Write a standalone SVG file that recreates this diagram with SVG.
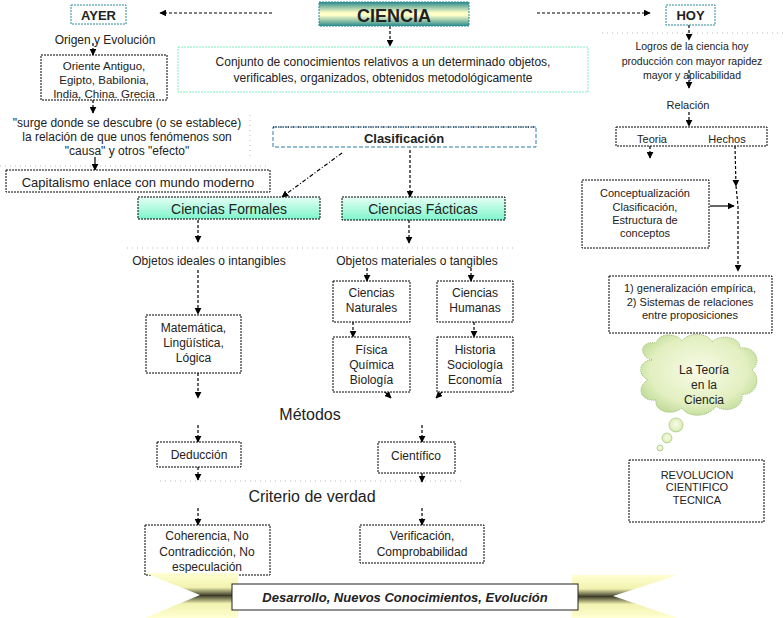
<svg xmlns="http://www.w3.org/2000/svg" width="783" height="618" viewBox="0 0 783 618">
<defs>
<marker id="ah" viewBox="0 0 10 10" refX="9" refY="5" markerWidth="7" markerHeight="7" markerUnits="userSpaceOnUse" orient="auto-start-reverse"><path d="M0,0 L10,5 L0,10 z" fill="#000"/></marker>
<linearGradient id="gCiencia" x1="0" y1="0" x2="0" y2="1"><stop offset="0" stop-color="#2a8a8a"/><stop offset="0.45" stop-color="#ffffc8"/><stop offset="0.55" stop-color="#ffffc8"/><stop offset="1" stop-color="#2a8a8a"/></linearGradient>
<linearGradient id="gMint" x1="0" y1="0" x2="0" y2="1"><stop offset="0" stop-color="#e6fff5"/><stop offset="1" stop-color="#7ff5cc"/></linearGradient>
<linearGradient id="gTail" x1="0" y1="0" x2="0" y2="1"><stop offset="0" stop-color="#ffffd2"/><stop offset="0.32" stop-color="#f2f2b0"/><stop offset="0.5" stop-color="#3c3c28"/><stop offset="0.68" stop-color="#f2f2b0"/><stop offset="1" stop-color="#ffffd2"/></linearGradient>
<radialGradient id="gCloud" cx="0.5" cy="0.45" r="0.6"><stop offset="0" stop-color="#f8fbe6"/><stop offset="0.7" stop-color="#e2efc0"/><stop offset="1" stop-color="#bcd994"/></radialGradient>
</defs>
<style>
text{font-family:"Liberation Sans",Arial,sans-serif;fill:#222;text-anchor:middle}
.t11{font-size:11px}.t10{font-size:10.5px}.t12{font-size:12px}.t13{font-size:13px}.t14{font-size:14px}.t16{font-size:16px}
.b{font-weight:bold}
.box{fill:#fff;stroke:#000;stroke-width:1;stroke-dasharray:2 1}
.tealbox{fill:#fff;stroke:#2a8a9a;stroke-width:1;stroke-dasharray:2 1}
.mint{fill:url(#gMint);stroke:#000;stroke-width:1;stroke-dasharray:2 1}
.c{fill:none;stroke:#000;stroke-width:1.2;stroke-dasharray:3 2;marker-end:url(#ah)}
.cs{fill:none;stroke:#000;stroke-width:1.2;marker-end:url(#ah)}
.guide{fill:none;stroke:#bbb;stroke-width:1;stroke-dasharray:1 4}
</style>

<g id="guides">
<path class="guide" d="M0,166 H270 M250,115 V160 M127,248 H515 M160,481 H463 M602,33 H783"/>
</g>

<g id="connectors">
<line class="c" x1="272" y1="13" x2="160" y2="13"/>
<line class="c" x1="537" y1="13" x2="650" y2="13"/>
<line class="c" x1="390" y1="26" x2="390" y2="46"/>
<line class="c" x1="93" y1="43" x2="93" y2="55"/>
<line class="c" x1="93" y1="100" x2="93" y2="113"/>
<line class="cs" x1="95" y1="157" x2="95" y2="170"/>
<line class="c" x1="342" y1="153" x2="282" y2="197" style="stroke-dasharray:4 2 1 2"/>
<line class="c" x1="410" y1="150" x2="410" y2="197"/>
<line class="c" x1="198" y1="220" x2="198" y2="242"/>
<line class="c" x1="198" y1="270" x2="198" y2="314"/>
<line class="c" x1="198" y1="373" x2="198" y2="398"/>
<line class="c" x1="409" y1="220" x2="409" y2="243"/>
<line class="c" x1="367" y1="268" x2="367" y2="281"/>
<line class="c" x1="471" y1="268" x2="471" y2="281"/>
<line class="c" x1="353" y1="322" x2="353" y2="337"/>
<line class="c" x1="474" y1="322" x2="474" y2="337"/>
<line class="cs" x1="384" y1="391" x2="391" y2="398"/>
<line class="cs" x1="443" y1="391" x2="436" y2="398"/>
<line class="c" x1="198" y1="425" x2="198" y2="442"/>
<line class="c" x1="422" y1="425" x2="422" y2="442"/>
<line class="c" x1="198" y1="452" x2="198" y2="480"/>
<line class="cs" x1="422" y1="458" x2="422" y2="482"/>
<line class="c" x1="198" y1="508" x2="198" y2="525"/>
<line class="c" x1="422" y1="508" x2="422" y2="525"/>
<line class="c" x1="689" y1="25" x2="689" y2="40"/>
<line class="c" x1="689" y1="70" x2="689" y2="88"/>
<line class="c" x1="689" y1="112" x2="689" y2="126"/>
<line class="cs" x1="673" y1="135" x2="702" y2="135" style="marker-start:url(#ah)"/>
<line class="c" x1="650" y1="146" x2="650" y2="158"/>
<polyline class="c" points="735,146 736,186"/>
<polyline class="c" style="marker-end:none" points="736,186 738,206"/>
<line class="cs" x1="710" y1="206" x2="734" y2="206"/>
<line class="c" x1="738" y1="206" x2="738" y2="271"/>
</g>

<g id="ciencia">
<rect x="319" y="2" width="150" height="24" fill="url(#gCiencia)" stroke="#2a8a9a" stroke-dasharray="2 1"/>
<text x="394" y="22" class="b" style="font-size:18px">CIENCIA</text>
</g>
<g id="ayer">
<rect class="tealbox" x="71" y="5" width="55" height="19"/>
<text x="98.5" y="20" class="t13 b">AYER</text>
</g>
<g id="hoy">
<rect class="tealbox" x="666" y="5" width="49" height="20"/>
<text x="690.5" y="20" class="t13 b">HOY</text>
</g>
<g id="conjunto">
<rect x="178" y="47" width="410" height="45" fill="#fff" stroke="#7fefbf" stroke-dasharray="2 1"/>
<text x="383" y="66" style="font-size:12px">Conjunto de conocimientos relativos a un determinado objetos,</text>
<text x="383" y="82" style="font-size:12px">verificables, organizados, obtenidos metodológicamente</text>
</g>

<g id="origen"><text x="105" y="44" class="t12">Origen  y Evolución</text></g>
<g id="oriente">
<rect class="box" x="41" y="55" width="126" height="45"/>
<text x="104" y="70" style="font-size:11.5px">Oriente Antiguo,</text>
<text x="104" y="84" style="font-size:11.5px">Egipto, Babilonia,</text>
<text x="104" y="98" style="font-size:11.5px">India, China.  Grecia</text>
</g>
<g id="surge">
<text x="127" y="127" class="t12">"surge donde se descubre (o se establece)</text>
<text x="127" y="141" class="t12">la relación de que unos fenómenos son</text>
<text x="127" y="155" class="t12">"causa" y otros "efecto"</text>
</g>
<g id="capitalismo">
<rect class="box" x="6" y="170" width="264" height="22"/>
<text x="138" y="187" class="t13">Capitalismo enlace con mundo moderno</text>
</g>

<g id="clasificacion">
<rect x="273" y="127" width="263" height="20" fill="#fff" stroke="#2a7aaa" stroke-dasharray="4 2"/>
<path d="M273,127 H536" stroke="#000" stroke-dasharray="1 1.5"/>
<text x="404" y="143" class="t13 b">Clasificación</text>
</g>
<g id="formales">
<rect class="mint" x="138" y="197" width="182" height="22"/>
<text x="229" y="214" class="t14">Ciencias Formales</text>
</g>
<g id="facticas">
<rect class="mint" x="342" y="197" width="163" height="23"/>
<text x="423" y="214" class="t14">Ciencias Fácticas</text>
</g>
<g id="ideales"><text x="209" y="265" class="t12">Objetos ideales o intangibles</text></g>
<g id="materiales"><text x="417" y="265" class="t12">Objetos materiales o tangibles</text></g>
<g id="matematica">
<rect class="box" x="146" y="315" width="95" height="58"/>
<text x="193.5" y="332" class="t12">Matemática,</text>
<text x="193.5" y="347" class="t12">Lingüística,</text>
<text x="193.5" y="362" class="t12">Lógica</text>
</g>
<g id="naturales">
<rect class="box" x="333" y="281" width="77" height="41"/>
<text x="371.5" y="297" class="t12">Ciencias</text>
<text x="371.5" y="312" class="t12">Naturales</text>
</g>
<g id="humanas">
<rect class="box" x="437" y="281" width="76" height="41"/>
<text x="475" y="297" class="t12">Ciencias</text>
<text x="475" y="312" class="t12">Humanas</text>
</g>
<g id="fisica">
<rect class="box" x="333" y="337" width="77" height="55"/>
<text x="371.5" y="354" class="t12">Física</text>
<text x="371.5" y="369" class="t12">Química</text>
<text x="371.5" y="384" class="t12">Biología</text>
</g>
<g id="historia">
<rect class="box" x="437" y="337" width="76" height="55"/>
<text x="475" y="354" class="t12">Historia</text>
<text x="475" y="369" class="t12">Sociología</text>
<text x="475" y="384" class="t12">Economía</text>
</g>
<g id="metodos"><text x="310" y="420" class="t16">Métodos</text></g>
<g id="deduccion">
<rect class="box" x="157" y="442" width="84" height="25"/>
<text x="199" y="459" class="t12">Deducción</text>
</g>
<g id="cientifico">
<rect class="box" x="378" y="442" width="77" height="31"/>
<text x="416" y="460" class="t12">Científico</text>
</g>
<g id="criterio"><text x="312" y="502" class="t16">Criterio de verdad</text></g>
<g id="coherencia">
<rect class="box" x="145" y="525" width="125" height="50"/>
<text x="207" y="540" class="t12">Coherencia, No</text>
<text x="207" y="556" class="t12">Contradicción, No</text>
<text x="207" y="571" class="t12">especulación</text>
</g>
<g id="verificacion">
<rect class="box" x="360" y="525" width="124" height="38"/>
<text x="422" y="540" class="t12">Verificación,</text>
<text x="422" y="556" class="t12">Comprobabilidad</text>
</g>

<g id="desarrollo">
<polygon points="145,573 238,573 238,618 145,618 200,595" fill="url(#gTail)"/>
<polygon points="572,575 678,575 613,596 678,618 572,618" fill="url(#gTail)"/>
<rect x="232" y="584" width="346" height="26" fill="#fff" stroke="#222" stroke-width="1"/>
<text x="405" y="602" class="t13 b" style="font-style:italic">Desarrollo, Nuevos Conocimientos, Evolución</text>
</g>

<g id="logros">
<text x="692" y="50" class="t10">Logros de la ciencia hoy</text>
<text x="692" y="65" class="t10">producción con mayor  rapidez</text>
<text x="692" y="79" class="t10">mayor y aplicabilidad</text>
</g>
<g id="relacion"><text x="688" y="109" class="t11">Relación</text></g>
<g id="teoria-hechos">
<rect class="box" x="616" y="127" width="151" height="19"/>
<text x="652" y="143" class="t11">Teoria</text>
<text x="727" y="143" class="t11">Hechos</text>
</g>
<g id="conceptualizacion">
<rect class="box" x="582" y="180" width="127" height="68"/>
<text x="645" y="197" class="t11">Conceptualización</text>
<text x="645" y="211" class="t11">Clasificación,</text>
<text x="645" y="224" class="t11">Estructura de</text>
<text x="645" y="237" class="t11">conceptos</text>
</g>
<g id="generalizacion">
<rect class="box" x="609" y="276" width="163" height="57"/>
<text x="690" y="292" class="t11">1) generalización empírica,</text>
<text x="690" y="306" class="t11">2) Sistemas de relaciones</text>
<text x="690" y="319" class="t11">entre proposiciones</text>
</g>
<g id="teoria-ciencia">
<path d="M652,360 C638,356 640,340 656,343 C660,332 676,333 682,341 C690,331 708,333 712,342 C720,334 740,336 740,348 C756,346 762,362 752,370 C762,378 756,396 742,394 C744,408 726,414 716,406 C708,418 688,418 682,408 C672,416 654,412 656,400 C640,402 636,386 648,380 C636,374 640,360 652,360 Z" fill="url(#gCloud)" stroke="#9cc070" stroke-width="1" stroke-dasharray="1 1"/>
<circle cx="676" cy="425" r="7" fill="url(#gCloud)" stroke="#9cc070" stroke-width="0.6"/>
<circle cx="667" cy="438" r="5" fill="url(#gCloud)" stroke="#9cc070" stroke-width="0.6"/>
<circle cx="660" cy="448" r="3" fill="url(#gCloud)" stroke="#9cc070" stroke-width="0.6"/>
<text x="704" y="374" class="t12">La Teoría</text>
<text x="704" y="389" class="t12">en la</text>
<text x="704" y="404" class="t12">Ciencia</text>
</g>
<g id="revolucion">
<rect class="box" x="629" y="460" width="135" height="62"/>
<text x="697" y="479" class="t11">REVOLUCION</text>
<text x="697" y="491" class="t11">CIENTIFICO</text>
<text x="697" y="504" class="t11">TECNICA</text>
</g>
</svg>
